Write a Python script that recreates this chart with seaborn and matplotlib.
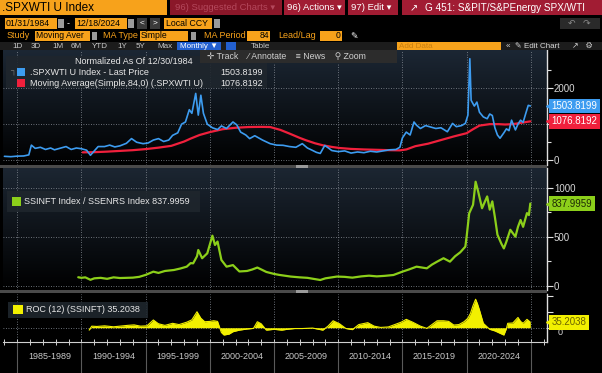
import numpy as np
import pandas as pd
import seaborn as sns
import matplotlib.pyplot as plt
from matplotlib import font_manager
from matplotlib.patches import Rectangle
from matplotlib.colors import LinearSegmentedColormap

# ---- data (x = fractional year) ----
spx_x = [1984.0, 1984.5, 1985.0, 1985.5, 1985.9, 1986.1, 1986.4, 1986.8, 1987.2, 1987.6, 1987.9,
         1988.3, 1988.8, 1989.2, 1989.6, 1990.0, 1990.4, 1990.7, 1991.0, 1991.3, 1991.8, 1992.2,
         1992.6, 1993.0, 1993.5, 1993.9, 1994.3, 1994.8, 1995.2, 1995.6, 1996.0, 1996.4, 1996.8,
         1997.1, 1997.5, 1997.8, 1998.1, 1998.4, 1998.6, 1998.9, 1999.1, 1999.3, 1999.5, 1999.8,
         2000.2, 2000.6, 2000.9, 2001.3, 2001.8, 2002.1, 2002.4, 2002.8, 2003.1, 2003.5, 2003.7,
         2004.1, 2004.7, 2005.2, 2005.7, 2006.2, 2006.7, 2007.2, 2007.6, 2007.9, 2008.3, 2008.6,
         2008.95, 2009.2, 2009.5, 2010.0, 2010.5, 2011.0, 2011.5, 2012.0, 2012.5, 2013.0, 2013.5,
         2014.0, 2014.5, 2014.8, 2015.0, 2015.3, 2015.6, 2015.9, 2016.1, 2016.4, 2016.8, 2017.2,
         2017.6, 2018.0, 2018.5, 2018.9, 2019.2, 2019.6, 2019.9, 2020.1, 2020.25, 2020.35, 2020.6,
         2020.8, 2021.0, 2021.3, 2021.6, 2021.8, 2022.0, 2022.2, 2022.4, 2022.6, 2022.9, 2023.1,
         2023.3, 2023.5, 2023.8, 2024.0, 2024.2, 2024.4, 2024.6, 2024.8, 2024.96]
spx_y = [110, 100, 115, 120, 150, 420, 330, 360, 300, 340, 290,
         330, 380, 300, 340, 320, 280, 140, 260, 380, 380, 420,
         370, 400, 470, 600, 500, 460, 480, 560, 600, 520, 560,
         690, 760, 1000, 1060, 1400, 1300, 1850, 1250, 1800, 1300, 1000,
         900, 850, 950, 880, 1060, 980, 780, 700, 600, 680, 640,
         560, 460, 420, 415, 380, 360, 460, 340, 290, 220, 190,
         410, 350, 270, 240, 260, 200, 230, 210, 250, 230, 260,
         290, 300, 360, 620, 780, 700, 1060, 970, 880, 960, 920,
         880, 900, 790, 1020, 930, 960, 1020, 1250, 2810, 1660, 1500,
         1610, 1330, 1200, 1150, 1280, 1240, 900, 700, 610, 760, 870,
         820, 1110, 840, 1000, 1110, 1050, 1290, 1520, 1503.8]

ma_x = [1990.1, 1991.0, 1992.0, 1993.0, 1994.0, 1995.0, 1996.0, 1997.0, 1998.0, 1998.5, 1999.2,
        2000.0, 2001.0, 2002.0, 2003.0, 2004.0, 2004.7, 2005.5, 2006.2, 2007.0, 2007.5, 2008.2,
        2008.8, 2009.5, 2010.1, 2011.0, 2012.0, 2013.0, 2014.0, 2014.8, 2015.3, 2016.0, 2017.0,
        2018.0, 2019.0, 2020.0, 2020.5, 2021.0, 2021.8, 2022.5, 2023.0, 2023.6, 2024.3, 2024.96]
ma_y = [220, 225, 240, 260, 280, 310, 350, 400, 520, 600, 700,
        780, 860, 900, 920, 925, 920, 840, 740, 620, 553, 470,
        415, 370, 340, 315, 300, 290, 280, 275, 300, 390, 460,
        560, 660, 750, 860, 960, 1000, 1000, 990, 1000, 1040, 1076.8]

ratio_x = [1989.75, 1990.0, 1990.3, 1990.7, 1991.0, 1991.5, 1992.0, 1992.5, 1993.0, 1993.5, 1994.0,
           1994.5, 1995.0, 1995.6, 1996.0, 1996.5, 1997.2, 1997.7, 1998.2, 1998.5, 1998.7, 1999.0,
           1999.1, 1999.4, 1999.8, 2000.2, 2000.4, 2000.6, 2000.9, 2001.3, 2001.8, 2002.3, 2002.9,
           2003.3, 2003.7, 2004.4, 2005.0, 2005.4, 2006.3, 2007.0, 2007.6, 2008.6, 2009.0, 2009.9,
           2010.5, 2011.1, 2011.8, 2012.4, 2013.0, 2013.6, 2014.3, 2015.0, 2015.5, 2016.1, 2016.9,
           2017.3, 2017.7, 2018.2, 2018.7, 2019.1, 2019.5, 2019.9, 2020.0, 2020.2, 2020.5, 2020.7,
           2020.9, 2021.2, 2021.4, 2021.6, 2021.8, 2022.0, 2022.2, 2022.4, 2022.7, 2022.9, 2023.1,
           2023.4, 2023.8, 2024.0, 2024.2, 2024.4, 2024.7, 2024.85, 2024.96]
ratio_y = [86, 80, 85, 60, 75, 80, 70, 85, 78, 80, 82,
           90, 110, 143, 130, 150, 160, 175, 194, 230, 228, 300,
           364, 280, 330, 510, 415, 450, 262, 194, 210, 145, 150,
           165, 185, 140, 120, 110, 93, 85, 80, 58, 75, 93,
           90, 82, 95, 102, 95, 100, 109, 143, 165, 194, 177,
           215, 245, 280, 245, 300, 340, 398, 500, 738, 825, 1060,
           960, 790, 850, 910, 775, 860, 700, 520, 430, 380, 450,
           570, 500, 600, 670, 600, 740, 720, 838.0]

roc_x = [1990.6, 1990.8, 1991.2, 1991.8, 1992.5, 1993.0, 1993.6, 1994.1, 1994.6, 1995.1, 1995.6,
         1996.0, 1996.5, 1997.1, 1997.6, 1998.2, 1998.6, 1999.0, 1999.3, 1999.6, 2000.0, 2000.3,
         2000.6, 2000.9, 2001.1, 2001.5, 2001.8, 2002.3, 2002.9, 2003.4, 2003.7, 2004.0, 2004.4,
         2005.0, 2005.6, 2006.0, 2006.6, 2007.2, 2008.0, 2008.8, 2009.2, 2009.6, 2010.1, 2010.6,
         2011.1, 2011.6, 2012.3, 2012.8, 2013.3, 2013.9, 2014.4, 2014.9, 2015.3, 2015.8, 2016.4,
         2016.9, 2017.3, 2017.7, 2018.2, 2018.6, 2019.0, 2019.4, 2019.8, 2020.1, 2020.3, 2020.5,
         2020.7, 2020.85, 2021.0, 2021.3, 2021.6, 2021.8, 2022.2, 2022.6, 2022.9, 2023.1, 2023.2,
         2023.6, 2024.0, 2024.2, 2024.4, 2024.7, 2024.96]
roc_y = [-15, 10, 8, 12, 6, 10, 15, 18, 10, 12, 49,
         25, 15, 28, 20, 35, 50, 101, 60, 38, 40, 44,
         40, -30, -46, -40, -25, -15, -8, -4, 38, 25, -15,
         -10, -15, -10, -5, -5, -2, -15, 10, 44, 25, -5,
         -12, 20, 32, 10, 2, 5, 20, 35, 53, 35, 10,
         -4, 20, 44, 44, 40, 17, 20, 38, 60, 91, 140,
         180, 150, 112, 28, 5, -10, -20, -35, -46, -5, 28,
         30, 65, 40, 28, 53, 35.2]

period_starts = [1985, 1990, 1995, 2000, 2005, 2010, 2015, 2020]
period_labels = ['1985-1989', '1990-1994', '1995-1999', '2000-2004',
                 '2005-2009', '2010-2014', '2015-2019', '2020-2024']

# ---- style ----
sns.set_style('dark')
names = {f.name for f in font_manager.fontManager.ttflist}
FONT = 'Liberation Sans Narrow' if 'Liberation Sans Narrow' in names else 'Liberation Sans'
plt.rcParams['font.family'] = [FONT, 'DejaVu Sans']

W, H = 602, 373
ORANGE = '#f7a21b'
BRED = '#a11c33'
BLUE = '#3d9cf0'
RED = '#f0203c'
GREEN = '#8ccf1a'
YELLOW = '#f2f000'
GRID = '#8a9099'

fig = plt.figure(figsize=(W / 100, H / 100), dpi=100, facecolor='black')


def fx(p):
    return p / W


def fy(p):
    return 1 - p / H


def box(x0, y0, x1, y1, color, alpha=1.0, z=1):
    fig.add_artist(Rectangle((fx(x0), fy(y1)), (x1 - x0) / W, (y1 - y0) / H,
                             transform=fig.transFigure, facecolor=color,
                             edgecolor='none', alpha=alpha, zorder=z))


def txt(x, y, s, color='white', size=6.5, ha='left', z=5, **kw):
    fig.text(fx(x), fy(y), s, color=color, fontsize=size, ha=ha, va='center', zorder=z, **kw)


# ---- header ----
box(0, 0, 167, 15, ORANGE)
txt(2, 8, '.SPXWTI U Index', 'black', 8.5)
box(170, 0, 282, 15, '#8a1729')
txt(175, 8, '96) Suggested Charts \u25be', '#b4485c', 6.8)
box(284, 0, 345, 15, BRED)
txt(287, 8, '96) Actions \u25be', 'white', 6.8)
box(348, 0, 398, 15, BRED)
txt(351, 8, '97) Edit \u25be', 'white', 6.8)
box(402, 0, 602, 15, BRED)
txt(410, 8, '\u2197', 'white', 7)
txt(425, 8, 'G 451: S&PIT/S&PEnergy SPX/WTI', 'white', 7.2)

box(5, 18, 57, 29, ORANGE)
txt(6, 23.5, '01/31/1984', 'black', 6.3)
box(58, 19, 64, 28, '#9a9a9a')
txt(67, 23.5, '-', 'white', 6.5)
box(75, 18, 127, 29, ORANGE)
txt(76, 23.5, '12/18/2024', 'black', 6.3)
box(128, 19, 134, 28, '#9a9a9a')
box(137, 18, 147, 29, '#3a3a3a')
txt(142, 23.5, '<', 'white', 6, ha='center')
box(150, 18, 160, 29, '#3a3a3a')
txt(155, 23.5, '>', 'white', 6, ha='center')
box(164, 18, 212, 29, ORANGE)
txt(166, 23.5, 'Local CCY', 'black', 6.3)
box(214, 19, 220, 28, '#9a9a9a')
box(560, 18, 600, 29, '#2a2a2a')
txt(568, 23.5, '\u21b6   \u21b7', '#8a8a8a', 6.5)

txt(7, 36, 'Study', ORANGE, 6.5)
box(35, 31, 90, 41, ORANGE)
txt(36, 36, 'Moving Aver', 'black', 6.2)
box(92, 32, 97, 40, '#9a9a9a')
txt(103, 36, 'MA Type', ORANGE, 6.5)
box(140, 31, 188, 41, ORANGE)
txt(141, 36, 'Simple', 'black', 6.2)
box(191, 32, 196, 40, '#9a9a9a')
txt(204, 36, 'MA Period', ORANGE, 6.5)
box(247, 31, 270, 41, ORANGE)
txt(269, 36, '84', 'black', 6.2, ha='right')
txt(278, 36, 'Lead/Lag', ORANGE, 6.5)
box(320, 31, 342, 41, ORANGE)
txt(341, 36, '0', 'black', 6.2, ha='right')
txt(350, 36, '\u270e', 'white', 6.5)

box(0, 42, 602, 50, '#1c1c1c')
for lbl, xp in zip(['1D', '3D', '1M', '6M', 'YTD', '1Y', '5Y', 'Max'],
                   [12, 31, 52, 71, 92, 117, 136, 157]):
    txt(xp, 46, lbl, '#c8c8c8', 5.8)
box(177, 42, 221, 50, '#2360d0')
txt(180, 46, 'Monthly \u25bc', 'white', 5.8)
box(226, 42, 236, 50, '#2360d0')
txt(251, 46, 'Table', '#c8c8c8', 5.8)
box(397, 42, 501, 50, ORANGE)
txt(399, 46, 'Add Data', '#c97f10', 5.8)
txt(506, 46, '\u00ab  \u270e Edit Chart', '#d8d8d8', 5.8)
txt(572, 46, '\u2197   \u2699', '#d8d8d8', 5.8)

# ---- panels ----
X0, X1 = 3, 547
XMIN, XMAX = 1983.89, 2026.26


def panel(ytop, ybot, ylim, grad_top):
    ax = fig.add_axes([fx(X0), fy(ybot), (X1 - X0) / W, (ybot - ytop) / H])
    ax.set_facecolor('black')
    cmap = LinearSegmentedColormap.from_list('bg', ['#000000', grad_top])
    ax.imshow(np.linspace(0, 1, 256).reshape(-1, 1), extent=[0, 1, 0, 1], transform=ax.transAxes,
              aspect='auto', cmap=cmap, origin='lower', zorder=0)
    ax.set_xlim(XMIN, XMAX)
    ax.set_ylim(*ylim)
    for s in ['top', 'left', 'bottom']:
        ax.spines[s].set_visible(False)
    ax.spines['right'].set_color('#e0e0e0')
    ax.spines['right'].set_linewidth(1.0)
    ax.yaxis.tick_right()
    ax.tick_params(axis='y', which='both', colors='#e0e0e0', labelcolor='#d8d8d8',
                   length=4, width=0.8, pad=1, labelsize=7, right=True)
    ax.tick_params(axis='y', which='minor', length=3)
    ax.tick_params(axis='x', bottom=False, labelbottom=False)
    for yr in period_starts + [2025]:
        ax.axvline(yr, color=GRID, lw=0.6, ls=(0, (1, 2)), zorder=1)
    return ax


def tag(ax, v, s, fc, tc):
    tr = ax.get_yaxis_transform()
    ax.plot([1.0045], [v], marker='<', ms=5, color=fc, transform=tr, clip_on=False, zorder=11)
    ax.text(1.0085, v, s, transform=tr, ha='left', va='center', fontsize=7, color=tc,
            bbox=dict(boxstyle='square,pad=0.25', fc=fc, ec='none'), clip_on=False, zorder=12)


# top panel: SPX / WTI with moving average
ax1 = panel(50, 165, (-130, 3051), '#1c2734')
sns.lineplot(x=ma_x, y=ma_y, ax=ax1, color=RED, lw=1.6, zorder=3)
sns.lineplot(x=spx_x, y=spx_y, ax=ax1, color=BLUE, lw=1.2, zorder=4)
ax1.set_yticks([0, 1000, 2000])
ax1.set_yticklabels(['0', '', '2000'])   # the 1000 label sits under the red tag
ax1.set_yticks([500, 1500, 2500], minor=True)
for v in [0, 1000, 2000]:
    ax1.axhline(v, color=GRID, lw=0.6, ls=(0, (1, 2)), zorder=1)
ax1.set_xlim(XMIN, XMAX)
ax1.set_ylim(-130, 3051)
tag(ax1, 1076.8192, '1076.8192', RED, 'white')
tag(ax1, 1503.8199, '1503.8199', BLUE, 'white')

# middle panel: SSINFT / SSENRS
ax2 = panel(168, 290, (-44, 1200), '#1c2632')
sns.lineplot(x=ratio_x, y=ratio_y, ax=ax2, color=GREEN, lw=1.6, zorder=4)
ax2.set_yticks([0, 500, 1000])
ax2.set_yticks([250, 750], minor=True)
for v in [0, 500, 1000]:
    ax2.axhline(v, color=GRID, lw=0.6, ls=(0, (1, 2)), zorder=1)
ax2.set_xlim(XMIN, XMAX)
ax2.set_ylim(-44, 1200)
tag(ax2, 837.9959, '837.9959', GREEN, '#1d2a05')

# bottom panel: ROC(12)
ax3 = panel(294, 342, (-90, 213), '#000000')
ax3.fill_between(roc_x, 0, roc_y, color=YELLOW, lw=0, zorder=3)
sns.lineplot(x=roc_x, y=roc_y, ax=ax3, color=YELLOW, lw=0.8, zorder=4)
ax3.set_yticks([0, 100, 200])
ax3.set_yticklabels(['0', '', ''])
ax3.tick_params(axis='y', pad=4, labelsize=6.5)
for lab in ax3.get_yticklabels():
    lab.set_va('top')   # sits just below the yellow tag, as in the terminal
ax3.axhline(0, color=GRID, lw=0.6, ls=(0, (1, 2)), zorder=1)
ax3.set_xlim(XMIN, XMAX)
ax3.set_ylim(-90, 213)
tag(ax3, 35.2038, '35.2038', YELLOW, '#6b6400')

# x axis under the bottom panel
ax3.spines['bottom'].set_visible(True)
ax3.spines['bottom'].set_color('#d0d0d0')
ax3.set_xticks(range(1984, 2027))
ax3.tick_params(axis='x', bottom=True, labelbottom=False, direction='inout',
                length=4, width=0.7, colors='#d0d0d0')
xt = ax3.get_xaxis_transform()
for yr in period_starts + [2025]:
    ax3.plot([yr, yr], [0, -0.68], transform=xt, color='#5a5a5a', lw=0.8, clip_on=False)
for yr, lbl in zip(period_starts, period_labels):
    ax3.text(yr + 2.5, -0.3, lbl, transform=xt, ha='center', va='center',
             fontsize=6.5, color='#c8c8c8', clip_on=False)

# separators between panels
for yy in [165, 290]:
    box(0, yy, 547, yy + 3, '#4a4a4a', z=6)
    box(296, yy, 308, yy + 3, '#9a9a9a', z=7)

# ---- legends and toolbar ----
box(6, 56, 267, 88, '#1f262d', alpha=0.9, z=6)
txt(75, 61.5, 'Normalized As Of 12/30/1984', '#e8e8e8', 6.5, z=7)
box(200, 50, 397, 63, '#2c2c2c', z=8)
txt(207, 56.5, '\u271b Track    \u2044 Annotate    \u2261 News    \u26b2 Zoom', '#d0d0d0', 6.3, z=9)
txt(10, 72, '\u2510', '#777777', 6, z=9)
box(17, 68, 25, 76, BLUE, z=9)
txt(30, 72.5, '.SPXWTI U Index - Last Price', '#e8e8e8', 6.5, z=9)
txt(263, 72.5, '1503.8199', '#e8e8e8', 6.5, ha='right', z=9)
box(17, 79, 25, 87, RED, z=9)
txt(30, 83.5, 'Moving Average(Simple,84,0) (.SPXWTI U)', '#e8e8e8', 6.5, z=9)
txt(263, 83.5, '1076.8192', '#e8e8e8', 6.5, ha='right', z=9)

box(7, 191, 200, 212, '#1f262d', alpha=0.9, z=8)
box(12, 197, 21, 206, GREEN, z=9)
txt(24, 201.5, 'SSINFT Index / SSENRS Index 837.9959', '#e8e8e8', 6.5, z=9)

box(8, 302, 148, 318, '#1f262d', alpha=0.9, z=8)
box(13, 305, 23, 314, YELLOW, z=9)
txt(26, 309.5, 'ROC (12) (SSINFT) 35.2038', '#e8e8e8', 6.5, z=9)

fig.savefig('out.png', dpi=100, facecolor='black')
